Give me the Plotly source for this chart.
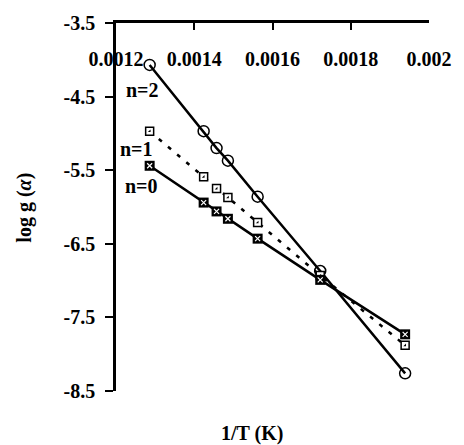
import plotly.graph_objects as go

# Data
inv_T = [0.001286, 0.001424, 0.001457, 0.001486, 0.001562, 0.001722, 0.001939]
n2_vals = [-4.07, -4.97, -5.20, -5.37, -5.86, -6.87, -8.26]
n1_vals = [-4.97, -5.59, -5.75, -5.87, -6.21, -6.93, -7.88]
n0_vals = [-5.44, -5.94, -6.06, -6.16, -6.43, -6.99, -7.73]

x_ticks = [0.0012, 0.0014, 0.0016, 0.0018, 0.002]
x_ticktext = ["0.0012", "0.0014", "0.0016", "0.0018", "0.002"]
y_ticks = [-3.5, -4.5, -5.5, -6.5, -7.5, -8.5]
y_ticktext = ["-3.5", "-4.5", "-5.5", "-6.5", "-7.5", "-8.5"]

FONT = "Liberation Serif, Times New Roman, serif"

def b(s):
    return "<b>" + s + "</b>"

fig = go.Figure()

# n=2: solid line, open circles
fig.add_trace(go.Scatter(
    x=inv_T, y=n2_vals, mode="lines+markers",
    line=dict(color="black", width=2.5),
    marker=dict(symbol="circle-open", size=11, color="black", line=dict(width=1.5)),
    showlegend=False, cliponaxis=False))

# n=1: dashed line, small squares
fig.add_trace(go.Scatter(
    x=inv_T, y=n1_vals, mode="lines",
    line=dict(color="black", width=2.5, dash="4px,8px"),
    showlegend=False, cliponaxis=False))
fig.add_trace(go.Scatter(
    x=inv_T, y=n1_vals, mode="markers",
    marker=dict(symbol="square", size=8, color="white", line=dict(color="black", width=1.5)),
    showlegend=False, cliponaxis=False))
fig.add_trace(go.Scatter(
    x=inv_T, y=n1_vals, mode="markers",
    marker=dict(symbol="triangle-se", size=3, color="black", line=dict(width=0)),
    showlegend=False, cliponaxis=False))

# n=0: solid line, black squares with white x
fig.add_trace(go.Scatter(
    x=inv_T, y=n0_vals, mode="lines+markers",
    line=dict(color="black", width=2.5),
    marker=dict(symbol="square", size=10, color="black", line=dict(width=0)),
    showlegend=False, cliponaxis=False))
fig.add_trace(go.Scatter(
    x=inv_T, y=n0_vals, mode="markers",
    marker=dict(symbol="x-thin-open", size=5, color="white", line=dict(color="white", width=1.2)),
    showlegend=False, cliponaxis=False))

L, R, T, B = 116, 26, 23, 54
W, H = 464, 445
pw = W - L - R
ph = H - T - B

def px_x(p):
    return (p - L) / pw

def px_y(p):
    return 1 - (p - T) / ph

annots = [
    dict(text="n=2", x=px_x(143), y=px_y(90)),
    dict(text="n=1", x=px_x(137), y=px_y(149)),
    dict(text="n=0", x=px_x(142), y=px_y(186)),
    dict(text="1/T (K)", x=px_x(256), y=px_y(433)),
]
annotations = []
for a in annots:
    annotations.append(dict(
        text=b(a["text"]), x=a["x"], y=a["y"], xref="paper", yref="paper",
        xanchor="center", yanchor="middle", showarrow=False,
        font=dict(family=FONT, size=20, color="black")))
annotations.append(dict(
    text=b("log g (<i>α</i>)"), x=px_x(22), y=px_y(208), xref="paper", yref="paper",
    xanchor="center", yanchor="middle", showarrow=False, textangle=-90,
    font=dict(family=FONT, size=20, color="black")))

fig.update_layout(
    width=W, height=H,
    margin=dict(l=L, r=R, t=T, b=B, pad=0),
    paper_bgcolor="white", plot_bgcolor="white",
    font=dict(family=FONT, size=20, color="black"),
    annotations=annotations,
    xaxis=dict(
        range=[0.0012, 0.002], side="top", showgrid=False, zeroline=False,
        showline=True, linecolor="black", linewidth=2.5,
        ticks="inside", ticklen=7, tickwidth=2, tickcolor="black",
        tickvals=x_ticks, ticktext=[b(t) for t in x_ticktext],
        ticklabelposition="inside", ticklabeloverflow="allow",
        ticklabelstandoff=23,
        tickfont=dict(family=FONT, size=20, color="black")),
    yaxis=dict(
        range=[-8.5, -3.5], showgrid=False, zeroline=False,
        showline=True, linecolor="black", linewidth=2.5,
        ticks="outside", ticklen=8, tickwidth=2, tickcolor="black",
        tickvals=y_ticks, ticktext=[b(t) for t in y_ticktext],
        ticklabelstandoff=6,
        tickfont=dict(family=FONT, size=20, color="black")),
)

fig.write_html("out.html")
